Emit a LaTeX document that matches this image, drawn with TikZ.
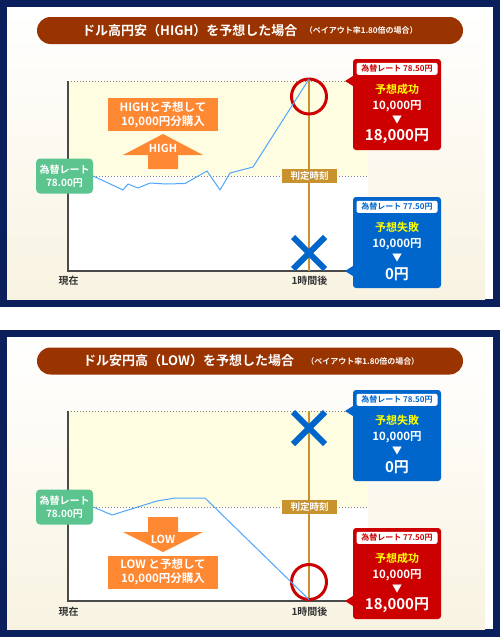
\documentclass[tikz,border=0pt]{standalone}
\usepackage{fontspec}
\setmainfont{Noto Sans CJK JP}[BoldFont={* Bold}]
\usetikzlibrary{positioning,shapes.misc}

\definecolor{navy}{HTML}{0A1F5C}
\definecolor{titlebrown}{HTML}{993300}
\definecolor{chartyellow}{HTML}{FFFDE1}
\definecolor{panelcream}{HTML}{F8F3E1}
\definecolor{rategreen}{HTML}{5CC58F}
\definecolor{judgegold}{HTML}{C8922E}
\definecolor{winred}{HTML}{CC0000}
\definecolor{loseblue}{HTML}{0066CC}
\definecolor{rateline}{HTML}{4DA6FF}
\definecolor{buyorange}{HTML}{FF8833}
\definecolor{axisgray}{HTML}{4A4A4A}
\definecolor{hityellow}{HTML}{FFFF00}

\tikzset{
  titlebar/.style={fill=titlebrown, rounded corners=13.5pt, minimum width=426pt, minimum height=27pt, inner sep=0pt},
  titletext/.style={text=white, inner sep=0pt, font=\bfseries\fontsize{13pt}{15pt}\selectfont},
  notetext/.style={text=white, inner sep=0pt, font=\bfseries\fontsize{8pt}{9pt}\selectfont},
  guide/.style={gray, line width=0.8pt, dash pattern=on 1pt off 2pt},
  axis/.style={axisgray, line width=1.6pt},
  judgeline/.style={judgegold, line width=1.6pt},
  rate/.style={rateline, line width=1pt, line join=round},
  ratelabel/.style={fill=rategreen, rounded corners=4pt, minimum width=57pt, minimum height=35pt, inner sep=0pt,
    align=center, text=white, font=\bfseries\fontsize{10pt}{13pt}\selectfont},
  judgetag/.style={fill=judgegold, minimum width=55pt, minimum height=14pt, inner sep=0pt,
    text=white, font=\bfseries\fontsize{9.5pt}{11pt}\selectfont},
  axislabel/.style={text=black!80, inner sep=0pt, font=\bfseries\fontsize{10pt}{11pt}\selectfont},
  hit/.style={circle, draw=winred, line width=3pt, minimum size=35pt, inner sep=0pt, outer sep=0pt},
  miss/.style={cross out, draw=loseblue, line width=6pt, minimum size=26pt, inner sep=0pt},
  resultbox/.style={rounded corners=3pt, minimum width=88pt, minimum height=91pt, inner sep=0pt},
  ratetag/.style={fill=white, rounded corners=2pt, minimum width=81pt, minimum height=12pt, inner sep=0pt,
    font=\bfseries\fontsize{8pt}{9pt}\selectfont},
  verdict/.style={text=hityellow, inner sep=0pt, font=\bfseries\fontsize{11pt}{13pt}\selectfont},
  stake/.style={text=white, inner sep=0pt, font=\bfseries\fontsize{11.5pt}{13pt}\selectfont},
  drop/.style={text=white, inner sep=0pt, font=\bfseries\fontsize{10pt}{12pt}\selectfont},
  payout/.style={text=white, inner sep=0pt, font=\bfseries\fontsize{15pt}{17pt}\selectfont},
  buybox/.style={fill=buyorange, minimum width=110pt, minimum height=33pt, inner sep=0pt,
    align=center, text=white, font=\bfseries\fontsize{11.5pt}{14pt}\selectfont},
  arrowtext/.style={text=white, inner sep=0pt, font=\bfseries\fontsize{11pt}{13pt}\selectfont},
}

\begin{document}
\begin{tikzpicture}[x=1pt, y=-1pt]
  \useasboundingbox (0,0) rectangle (500,637);

  % ---------- HIGH panel ----------
  % Frame
  \fill[navy] (0,0) rectangle (500,307);
  \fill[white] (7,7) rectangle (493,299);
  \shade[top color=white, bottom color=panelcream] (7,7) rectangle (485,299);

  % Title
  \node[titlebar] (bar1) at (250,30.5) {};
  \node[titletext, anchor=west] (head1) at (82,30.5) {ドル高円安（HIGH）を予想した場合};
  \node[notetext, right=7pt of head1] (note1) {（ペイアウト率1.80倍の場合）};

  % Chart
  \fill[chartyellow] (68,81) rectangle (368,176);
  \fill[white] (68,176) rectangle (368,271);
  \draw[guide] (68,81) -- (348,81);
  \draw[guide] (93,176) -- (368,176);
  \draw[axis] (68,81) -- (68,271) -- (348,271);
  \draw[judgeline] (309,81) -- (309,271);

  % Nodes
  \node[ratelabel] (rate1) at (64.5,176) {為替レート\\78.00円};
  \node[judgetag] (judge1) at (309.5,176) {判定時刻};
  \node[axislabel] (now1) at (68.5,281) {現在};
  \node[axislabel] (later1) at (309.5,281) {1時間後};
  \node[hit] (hit1) at (309,96.5) {};
  \node[miss] (miss1) at (309,253) {};

  % Rate
  \draw[rate] (rate1.east) -- (123,190) -- (128,184) -- (138,188) -- (150,183) -- (166,184)
    -- (185,183.5) -- (207,171) -- (220,190) -- (230,173) -- (253,167) -- (hit1.north);

  % HIGH order
  \node[buybox] (buy1) at (163,114.5) {HIGHと予想して\\10,000円分購入};
  \fill[buyorange] (163,134) -- (203,155) -- (178,155) -- (178,169) -- (148,169) -- (148,155) -- (123,155) -- cycle;
  \node[arrowtext] (up1) at (163,148) {HIGH};

  % Success box
  \node[resultbox, fill=winred] (win1) at (397,104.5) {};
  \coordinate (tip1) at (345,81);
  \fill[winred] (tip1) -- ++(8,-5) -- ++(0,10) -- cycle;
  \node[ratetag, text=winred] (tag1) at ([yshift=-10pt]win1.north) {為替レート 78.50円};
  \node[verdict] (res1) at ([yshift=-31pt]win1.north) {予想成功};
  \node[stake] (bet1) at ([yshift=-47pt]win1.north) {10,000円};
  \node[drop] (tri1) at ([yshift=-61pt]win1.north) {▼};
  \node[payout] (pay1) at ([yshift=-77pt]win1.north) {18,000円};

  % Failure box
  \node[resultbox, fill=loseblue] (lose1) at (397,242.5) {};
  \coordinate (tip2) at (345,271);
  \fill[loseblue] (tip2) -- ++(8,-5) -- ++(0,10) -- cycle;
  \node[ratetag, text=loseblue] (tag2) at ([yshift=-10pt]lose1.north) {為替レート 77.50円};
  \node[verdict] (res2) at ([yshift=-31pt]lose1.north) {予想失敗};
  \node[stake] (bet2) at ([yshift=-47pt]lose1.north) {10,000円};
  \node[drop] (tri2) at ([yshift=-61pt]lose1.north) {▼};
  \node[payout] (pay2) at ([yshift=-77pt]lose1.north) {0円};

  % ---------- LOW panel ----------
  \begin{scope}[yshift=-330pt]
    % Frame
    \fill[navy] (0,0) rectangle (500,307);
    \fill[white] (7,7) rectangle (493,299);
    \shade[top color=white, bottom color=panelcream] (7,7) rectangle (485,299);

    % Title
    \node[titlebar] (bar2) at (250,31) {};
    \node[titletext, anchor=west] (head2) at (83,31) {ドル安円高（LOW）を予想した場合};
    \node[notetext, right=12pt of head2] (note2) {（ペイアウト率1.80倍の場合）};

    % Chart
    \fill[chartyellow] (68,81) rectangle (368,177);
    \fill[white] (68,177) rectangle (368,271);
    \draw[guide] (68,81) -- (348,81);
    \draw[guide] (93,177) -- (368,177);
    \draw[axis] (68,81) -- (68,271) -- (348,271);
    \draw[judgeline] (309,81) -- (309,271);

    % Nodes
    \node[ratelabel] (rate2) at (64.5,177) {為替レート\\78.00円};
    \node[judgetag] (judge2) at (309.5,177) {判定時刻};
    \node[axislabel] (now2) at (68.5,282) {現在};
    \node[axislabel] (later2) at (309.5,282) {1時間後};
    \node[hit] (hit2) at (309,252) {};
    \node[miss] (miss2) at (309,98) {};

    % Rate
    \draw[rate] (rate2.east) -- (112,185) -- (157,171) -- (175,168) -- (205,168) -- (hit2.south);

    % LOW order
    \fill[buyorange] (148,187) -- (178,187) -- (178,202) -- (203,202) -- (163,222) -- (123,202) -- (148,202) -- cycle;
    \node[arrowtext] (down2) at (163,209) {LOW};
    \node[buybox] (buy2) at (163,242) {LOW と予想して\\10,000円分購入};

    % Failure box
    \node[resultbox, fill=loseblue] (lose3) at (397,105.5) {};
    \coordinate (tip3) at (345,81);
    \fill[loseblue] (tip3) -- ++(8,-5) -- ++(0,10) -- cycle;
    \node[ratetag, text=loseblue] (tag3) at ([yshift=-10pt]lose3.north) {為替レート 78.50円};
    \node[verdict] (res3) at ([yshift=-31pt]lose3.north) {予想失敗};
    \node[stake] (bet3) at ([yshift=-47pt]lose3.north) {10,000円};
    \node[drop] (tri3) at ([yshift=-61pt]lose3.north) {▼};
    \node[payout] (pay3) at ([yshift=-77pt]lose3.north) {0円};

    % Success box
    \node[resultbox, fill=winred] (win4) at (397,243.5) {};
    \coordinate (tip4) at (345,271);
    \fill[winred] (tip4) -- ++(8,-5) -- ++(0,10) -- cycle;
    \node[ratetag, text=winred] (tag4) at ([yshift=-10pt]win4.north) {為替レート 77.50円};
    \node[verdict] (res4) at ([yshift=-31pt]win4.north) {予想成功};
    \node[stake] (bet4) at ([yshift=-47pt]win4.north) {10,000円};
    \node[drop] (tri4) at ([yshift=-61pt]win4.north) {▼};
    \node[payout] (pay4) at ([yshift=-77pt]win4.north) {18,000円};
  \end{scope}
\end{tikzpicture}
\end{document}
